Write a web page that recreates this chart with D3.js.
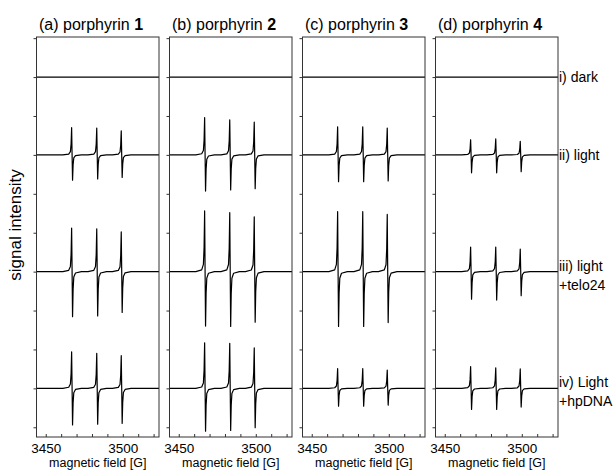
<!DOCTYPE html>
<html>
<head>
<meta charset="utf-8">
<script src="https://cdn.jsdelivr.net/npm/d3@7"></script>
<style>
  body { margin: 0; background: #fff; }
  text { font-family: "Liberation Sans", Arial, Helvetica, sans-serif; fill: #000; }
</style>
</head>
<body>
<svg id="chart" width="613" height="470"></svg>
<script>
// EPR spectra of the nitroxide triplet for four porphyrins under four conditions
const panelTitles = ["(a) porphyrin ", "(b) porphyrin ", "(c) porphyrin ", "(d) porphyrin "];
const porphyrinIds = ["1", "2", "3", "4"];
const conditionLabels = [["i) dark"], ["ii) light"], ["iii) light", "+telo24"], ["iv) Light", "+hpDNA"]];
const traceOffsets = [9, 7, 4, 1];            // vertical stacking offsets of the four traces
const linePositions = [3467.1, 3483.4, 3499.3]; // hyperfine line centres [G]
const fieldTicks = [3450, 3460, 3470, 3480, 3490, 3500, 3510, 3520];
const fieldTickLabels = [3450, 3500];
const intensityTicks = [0, 1, 2, 3, 4, 5, 6, 7, 8, 9, 10];

// positive (low-field) lobe heights, per porphyrin, per condition, per line
const upLobe1 = [[0, 0, 0], [0.70, 0.69, 0.62], [1.12, 1.10, 1.02], [0.94, 0.90, 0.84]];
const upLobe2 = [[0, 0, 0], [0.96, 0.90, 0.84], [1.56, 1.52, 1.41], [1.17, 1.16, 1.04]];
const upLobe3 = [[0, 0, 0], [0.72, 0.72, 0.69], [1.54, 1.54, 1.47], [0.51, 0.51, 0.47]];
const upLobe4 = [[0, 0, 0], [0.39, 0.41, 0.35], [0.63, 0.63, 0.58], [0.56, 0.53, 0.50]];
// negative (high-field) lobe depths
const downLobe1 = [[0, 0, 0], [0.65, 0.62, 0.58], [1.16, 1.14, 1.05], [0.94, 0.92, 0.90]];
const downLobe2 = [[0, 0, 0], [0.93, 0.90, 0.87], [1.40, 1.41, 1.30], [1.10, 1.08, 1.01]];
const downLobe3 = [[0, 0, 0], [0.69, 0.69, 0.67], [1.41, 1.41, 1.31], [0.46, 0.46, 0.43]];
const downLobe4 = [[0, 0, 0], [0.46, 0.46, 0.43], [0.71, 0.73, 0.62], [0.54, 0.54, 0.48]];

// first-derivative line profile: field offset from line centre [G] and normalised value
const profileOffset = [-6, -2.2, -1.1, -0.65, -0.3, 0, 0.3, 0.65, 1.1, 2.2, 6];
const profileValue  = [0, 0.03, 0.12, 0.4, 1, 0, -1, -0.4, -0.12, -0.03, 0];

const upLobes = [upLobe1, upLobe2, upLobe3, upLobe4];
const downLobes = [downLobe1, downLobe2, downLobe3, downLobe4];

const svg = d3.select("#chart");
const panelW = 122.5, panelTop = 37, panelH = 400, panelStep = 133, firstLeft = 36.5;

const x = d3.scaleLinear().domain([3444, 3523.5]).range([0, panelW]);
const y = d3.scaleLinear().domain([-0.25, 10.03]).range([panelH, 0]);

function tracePoints(ups, downs, offset) {
  const pts = [[x.domain()[0], offset]];
  linePositions.forEach((c, k) => {
    profileOffset.forEach((o, j) => {
      const v = profileValue[j];
      const a = v >= 0 ? ups[k] : downs[k];
      pts.push([c + o, offset + v * a]);
    });
  });
  pts.push([x.domain()[1], offset]);
  return pts.sort((p, q) => p[0] - q[0]);
}

const line = d3.line().x(d => x(d[0])).y(d => y(d[1]));

porphyrinIds.forEach((pid, i) => {
  const g = svg.append("g")
    .attr("transform", `translate(${firstLeft + i * panelStep},${panelTop})`);

  // traces
  traceOffsets.forEach((off, c) => {
    g.append("path")
      .attr("d", line(tracePoints(upLobes[i][c], downLobes[i][c], off)))
      .attr("fill", "none")
      .attr("stroke", "#000")
      .attr("stroke-width", 1.2)
      .attr("stroke-linejoin", "round");
  });

  // frame
  g.append("rect")
    .attr("x", 0).attr("y", 0)
    .attr("width", panelW).attr("height", panelH)
    .attr("fill", "none").attr("stroke", "#333").attr("stroke-width", 1);

  // intensity ticks (no labels)
  const ya = g.append("g")
    .call(d3.axisLeft(y).tickValues(intensityTicks).tickSize(3).tickFormat(""));
  ya.select(".domain").remove();
  ya.selectAll("line").attr("stroke", "#333");

  // field axis with inward ticks
  const xa = g.append("g")
    .attr("transform", `translate(0,${panelH})`)
    .call(d3.axisBottom(x).tickValues(fieldTicks).tickSize(-3)
      .tickFormat(d => fieldTickLabels.includes(d) ? d : ""));
  xa.select(".domain").remove();
  xa.selectAll("line").attr("stroke", "#333");
  xa.selectAll("text")
    .attr("y", 15.5).attr("dy", 0)
    .style("font-size", "13.5px")
    .style("font-family", "'Liberation Sans', Arial, sans-serif")
    .attr("fill", "#000");

  g.append("text")
    .attr("x", panelW / 2).attr("y", 466.5 - panelTop)
    .attr("text-anchor", "middle")
    .style("font-size", "12.5px")
    .text("magnetic field [G]");

  // panel title with bold compound number
  const t = g.append("text")
    .attr("x", 2.5).attr("y", 30 - panelTop)
    .style("font-size", "16px");
  t.append("tspan").text(panelTitles[i]);
  t.append("tspan").style("font-weight", "bold").text(pid);
});

// condition labels at the right edge
const yAbs = v => panelTop + y(v);
conditionLabels.forEach((lines, c) => {
  const base = yAbs(traceOffsets[c]) + (lines.length > 1 ? -1 : 5);
  const t = svg.append("text").attr("x", 559).attr("y", base).style("font-size", "14px");
  lines.forEach((s, k) => {
    t.append("tspan").attr("x", 559).attr("dy", k === 0 ? 0 : 19).text(s);
  });
});

// shared intensity axis title
svg.append("text")
  .attr("transform", "translate(21,225) rotate(-90)")
  .attr("text-anchor", "middle")
  .style("font-size", "17px")
  .text("signal intensity");
</script>
</body>
</html>
